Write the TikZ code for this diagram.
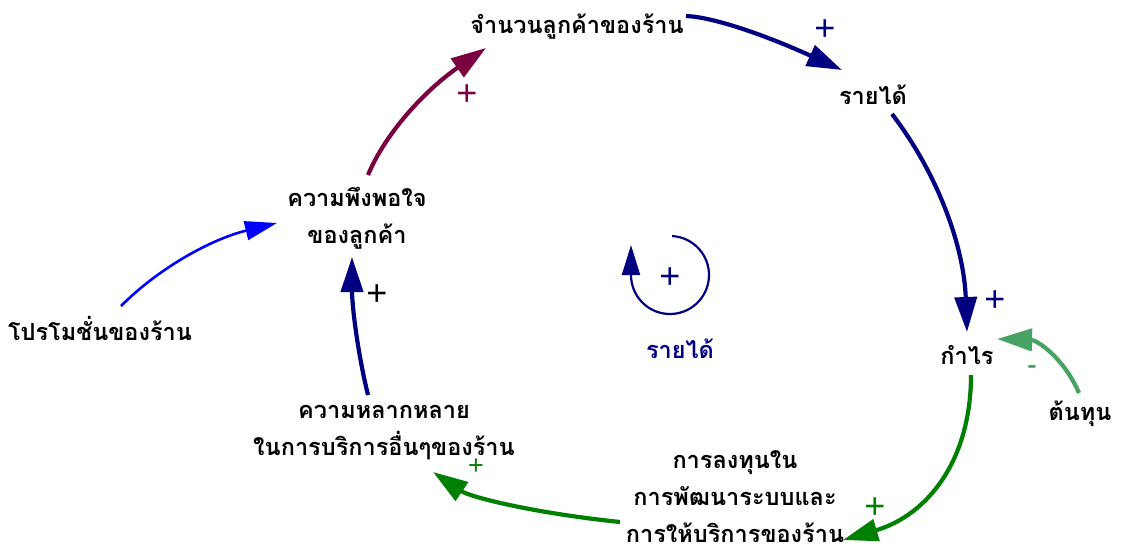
\documentclass[tikz,border=0pt]{standalone}
\usepackage{fontspec}
\newfontfamily\thai[Script=Thai]{Loma}
\newfontfamily\plusfont{Liberation Sans}
\usetikzlibrary{arrows.meta}
\definecolor{maroonc}{RGB}{122,0,64}
\definecolor{navyc}{RGB}{0,0,128}
\definecolor{bluec}{RGB}{0,0,255}
\definecolor{greenc}{RGB}{0,128,0}
\definecolor{lgreenc}{RGB}{70,163,100}
\begin{document}
\begin{tikzpicture}[x=1pt,y=1pt,
  var/.style={font=\thai\bfseries\fontsize{23.5}{37}\selectfont, align=center, inner sep=0pt, text=black},
  link/.style={line width=4.2pt, -{Triangle[length=35pt,width=22pt]}},
  pol/.style={font=\plusfont\fontsize{36}{36}\selectfont, inner sep=0pt}]
\useasboundingbox (0,0) rectangle (1122,-551);
\fill[white] (0,0) rectangle (1122,-551);
% variables
\node[var] (cust) at (577,-27) {จำนวนลูกค้าของร้าน};
\node[var] (rev) at (873,-95) {รายได้};
\node[var] (prof) at (967,-355) {กำไร};
\node[var] (cost) at (1080,-414) {ต้นทุน};
\node[var] (inv) at (735,-497) {การลงทุนใน\\การพัฒนาระบบและ\\การให้บริการของร้าน};
\node[var] (div) at (384,-433) {ความหลากหลาย\\ในการบริการอื่นๆของร้าน};
\node[var] (sat) at (357,-218) {ความพึงพอใจ\\ของลูกค้า};
\node[var] (promo) at (100,-328) {โปรโมชั่นของร้าน};
% connectors
\draw[link, maroonc] ([shift={(11,43)}]sat.center) .. controls (385,-134) and (424,-91) .. ([shift={(-91,-21)}]cust.center);
\draw[link, navyc] ([shift={(109,11)}]cust.center) .. controls (713,-17) and (765,-35) .. ([shift={(-31,25)}]rev.center);
\draw[link, navyc] ([shift={(19,-19)}]rev.center) .. controls (940,-177) and (964,-249) .. ([shift={(0,23)}]prof.center);
\draw[link, lgreenc] ([shift={(-1,21)}]cost.center) .. controls (1064,-358) and (1037,-340) .. ([shift={(30,16)}]prof.center);
\draw[link, greenc] ([shift={(4,-20)}]prof.center) .. controls (971,-460) and (928,-515) .. ([shift={(108,-43)}]inv.center);
\draw[link, greenc] ([shift={(-115,-25)}]inv.center) .. controls (533,-513) and (470,-497) .. ([shift={(49,-39)}]div.center);
\draw[link, navyc] ([shift={(-16,38)}]div.center) .. controls (357,-350) and (352,-304) .. ([shift={(-5,-39)}]sat.center);
\draw[line width=2.6pt, bluec, -{Triangle[length=32pt,width=19pt]}] ([shift={(21,22)}]promo.center) .. controls (160,-267) and (212,-239) .. ([shift={(-80,-5)}]sat.center);
% polarities
\node[pol, text=maroonc] (p1) at (467,-95) {+};
\node[pol, text=navyc] (p2) at (825,-30) {+};
\node[pol, text=navyc] (p3) at (995,-301) {+};
\node[font=\thai\bfseries\fontsize{26}{26}\selectfont, inner sep=0pt, text=lgreenc] (p4) at (1032,-369) {-};
\node[pol, text=greenc] (p5) at (875,-508) {+};
\node[font=\plusfont\fontsize{27}{27}\selectfont, inner sep=0pt, text=greenc] (p6) at (476,-467) {+};
\node[pol, text=black] (p7) at (377,-295) {+};
% loop symbol
\coordinate (lc) at (670,-275);
\draw[navyc, line width=2.2pt, -{Triangle[length=30pt,width=18pt]}] ([shift={(87:39)}]lc) arc[start angle=87, end angle=-180, radius=39] -- ++(0,30);
\node[pol, text=navyc] (lp) at (670,-278) {+};
\node[var, text=navyc] (lname) at (680,-349) {รายได้};
\end{tikzpicture}
\end{document}
